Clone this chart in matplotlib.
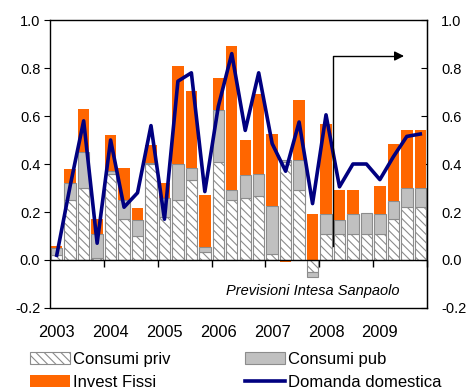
import matplotlib
matplotlib.use("Agg")
import matplotlib.pyplot as plt
import numpy as np

# Quarterly contributions to domestic demand growth, 2003Q1-2009Q4
years = ["2003", "2004", "2005", "2006", "2007", "2008", "2009"]
consumi_priv = [0.02, 0.25, 0.30, 0.01, 0.36, 0.17, 0.10, 0.40, 0.18, 0.25, 0.335, 0.035, 0.41, 0.25,
                0.26, 0.265, 0.025, 0.41, 0.29, -0.05, 0.11, 0.11, 0.11, 0.11, 0.11, 0.17, 0.22, 0.22]
consumi_pub = [0.03, 0.07, 0.15, 0.10, 0.01, 0.08, 0.065, 0.005, 0.08, 0.15, 0.05, 0.018, 0.215, 0.04,
               0.095, 0.095, 0.20, 0.005, 0.125, -0.02, 0.08, 0.055, 0.08, 0.085, 0.08, 0.075, 0.08, 0.08]
invest_fissi = [0.01, 0.06, 0.18, 0.06, 0.15, 0.135, 0.05, 0.075, 0.06, 0.41, 0.32, 0.217, 0.132, 0.60,
                0.145, 0.33, 0.30, -0.01, 0.25, 0.19, 0.375, 0.125, 0.10, 0.0, 0.12, 0.24, 0.24, 0.24]
domanda_domestica = [0.02, 0.31, 0.58, 0.07, 0.50, 0.22, 0.28, 0.56, 0.17, 0.745, 0.78, 0.285, 0.64, 0.86,
                     0.54, 0.78, 0.485, 0.37, 0.575, 0.235, 0.605, 0.305, 0.40, 0.40, 0.335, 0.43, 0.515, 0.525]

ORANGE = "#FF6600"
GREY = "#C0C0C0"
EDGE = "#8C8C8C"
NAVY = "#000080"

plt.rcParams["font.family"] = ["Liberation Sans", "DejaVu Sans"]
plt.rcParams["hatch.color"] = "#A0A0A0"
plt.rcParams["hatch.linewidth"] = 0.8

fig = plt.figure(figsize=(4.70, 3.91), dpi=100)
ax = fig.add_axes([0.1064, 0.2123, 0.8021, 0.7365])

n = len(consumi_priv)
x = np.arange(n)
priv = np.array(consumi_priv)
pub = np.array(consumi_pub)
inv = np.array(invest_fissi)

# stack positives upward and negatives downward
pos_base = np.zeros(n)
neg_base = np.zeros(n)
width = 0.85


def stack(vals, **kw):
    bottoms = np.where(vals >= 0, pos_base, neg_base)
    bars = ax.bar(x, vals, width, bottom=bottoms, **kw)
    pos_base[:] = pos_base + np.where(vals >= 0, vals, 0)
    neg_base[:] = neg_base + np.where(vals < 0, vals, 0)
    return bars


b1 = stack(priv, color="white", edgecolor=EDGE, hatch="\\\\\\\\", linewidth=0.8, label="Consumi priv")
b2 = stack(pub, color=GREY, edgecolor=EDGE, linewidth=0.8, label="Consumi pub")
b3 = stack(inv, color=ORANGE, edgecolor="none", linewidth=0, label="Invest Fissi")
ln, = ax.plot(x, domanda_domestica, color=NAVY, lw=2.6, label="Domanda domestica", zorder=5)

ax.set_xlim(-0.5, n - 0.5)
ax.set_ylim(-0.2, 1.0)
yticks = np.arange(-0.2, 1.01, 0.2)
fmt = matplotlib.ticker.FormatStrFormatter("%.1f")
ax.set_yticks(yticks)
ax.yaxis.set_major_formatter(fmt)
ax.tick_params(axis="y", direction="out", length=4, labelsize=10.5, pad=3)
for s in ax.spines.values():
    s.set_linewidth(1.0)

# mirrored scale on the right, ticks pointing inward
axr = ax.secondary_yaxis("right")
axr.set_yticks(yticks)
axr.yaxis.set_major_formatter(fmt)
axr.tick_params(axis="y", direction="in", length=4, labelsize=10.5, pad=10)

# year labels under the frame, ticks on the zero line
ax.set_xticks(np.arange(0, n, 4))
ax.set_xticklabels(years, fontsize=11.8)
ax.tick_params(axis="x", length=0, pad=12)
ax.axhline(0, color="black", lw=1.0, zorder=6)
sec = ax.secondary_xaxis(1 / 6)
sec.set_xticks(np.arange(3.5, n, 4))
sec.tick_params(axis="x", direction="out", length=5, labelbottom=False, width=1.0)
sec.spines["bottom"].set_visible(False)

# forecast marker
ax.plot([20.5, 20.5, 25.0], [0.06, 0.85, 0.85], color="black", lw=1.0, zorder=7)
ax.annotate("", xy=(26.0, 0.85), xytext=(25.0, 0.85),
            arrowprops=dict(arrowstyle="-|>", color="black", lw=1.0, mutation_scale=14), zorder=7)
ax.text(19.05, -0.13, "Previsioni Intesa Sanpaolo", style="italic", fontsize=10.5,
        ha="center", va="center")

# legend laid out row by row: priv, pub / invest, domanda
fig.legend(handles=[b1, b3, b2, ln], labels=["Consumi priv", "Invest Fissi", "Consumi pub", "Domanda domestica"],
           ncol=2, loc="lower left", bbox_to_anchor=(0.032, -0.035), frameon=False, fontsize=12,
           handlelength=2.4, handleheight=0.75, columnspacing=4.45, handletextpad=0.2, labelspacing=0.45)

fig.savefig("out.png", dpi=100)
